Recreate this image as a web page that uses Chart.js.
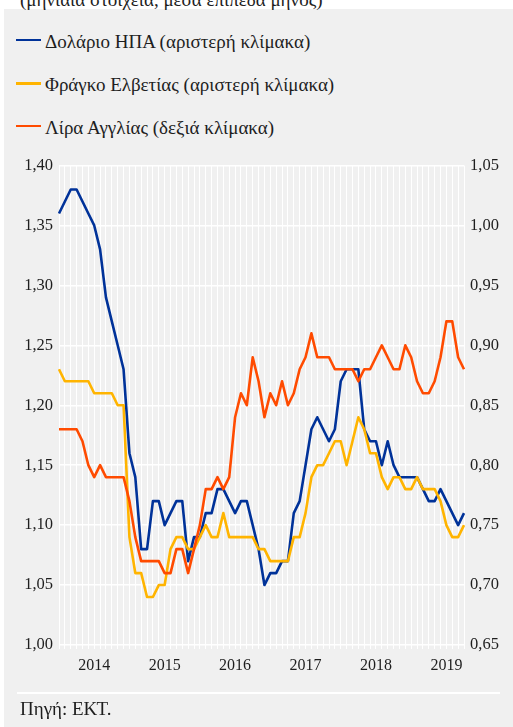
<!DOCTYPE html>
<html>
<head>
<meta charset="utf-8">
<script src="https://cdn.jsdelivr.net/npm/chart.js@4.4.1/dist/chart.umd.min.js"></script>
<style>
  body { margin: 0; background: #fff; width: 513px; height: 727px; overflow: hidden; position: relative; color: #1e1e1e; }
  .serif { font-family: 'Liberation Serif', 'Times New Roman', serif; }
  #panel { position: absolute; left: 4px; top: 9px; width: 509px; height: 718px; background: #f0f0f0; }
  #subtitle { position: absolute; left: 20px; top: -10px; font-size: 19px; line-height: 19px; white-space: nowrap; }
  .leg { position: absolute; left: 16px; font-size: 19px; line-height: 19px; white-space: nowrap; }
  .leg i { position: absolute; left: 0; top: 6.8px; width: 25px; height: 2.5px; }
  .leg span { position: absolute; left: 29px; top: 0; }
  #rule { position: absolute; left: 17px; top: 692px; width: 483px; height: 2px; background: #fff; }
  #source { position: absolute; left: 20px; top: 699px; font-size: 19px; line-height: 19px; }
  #myChart { position: absolute; left: 0; top: 0; }
</style>
</head>
<body>
<div id="panel"></div>
<div id="subtitle" class="serif">(μηνιαία στοιχεία, μέσα επίπεδα μηνός)</div>
<div id="legend" class="serif"></div>
<canvas id="myChart" width="513" height="727"></canvas>
<div id="rule"></div>
<div id="source" class="serif">Πηγή: ΕΚΤ.</div>
<script>
// μήνες: Ιαν 2014 - Οκτ 2019
var months = [
  "2014-01","2014-02","2014-03","2014-04","2014-05","2014-06","2014-07","2014-08","2014-09","2014-10","2014-11","2014-12",
  "2015-01","2015-02","2015-03","2015-04","2015-05","2015-06","2015-07","2015-08","2015-09","2015-10","2015-11","2015-12",
  "2016-01","2016-02","2016-03","2016-04","2016-05","2016-06","2016-07","2016-08","2016-09","2016-10","2016-11","2016-12",
  "2017-01","2017-02","2017-03","2017-04","2017-05","2017-06","2017-07","2017-08","2017-09","2017-10","2017-11","2017-12",
  "2018-01","2018-02","2018-03","2018-04","2018-05","2018-06","2018-07","2018-08","2018-09","2018-10","2018-11","2018-12",
  "2019-01","2019-02","2019-03","2019-04","2019-05","2019-06","2019-07","2019-08","2019-09","2019-10"
];

// αριστερή κλίμακα
var usd = [
  1.36,1.37,1.38,1.38,1.37,1.36,1.35,1.33,1.29,1.27,1.25,1.23,
  1.16,1.14,1.08,1.08,1.12,1.12,1.10,1.11,1.12,1.12,1.07,1.09,
  1.09,1.11,1.11,1.13,1.13,1.12,1.11,1.12,1.12,1.10,1.08,1.05,
  1.06,1.06,1.07,1.07,1.11,1.12,1.15,1.18,1.19,1.18,1.17,1.18,
  1.22,1.23,1.23,1.23,1.18,1.17,1.17,1.15,1.17,1.15,1.14,1.14,
  1.14,1.14,1.13,1.12,1.12,1.13,1.12,1.11,1.10,1.11
];
var chf = [
  1.23,1.22,1.22,1.22,1.22,1.22,1.21,1.21,1.21,1.21,1.20,1.20,
  1.09,1.06,1.06,1.04,1.04,1.05,1.05,1.08,1.09,1.09,1.08,1.08,
  1.09,1.10,1.09,1.09,1.11,1.09,1.09,1.09,1.09,1.09,1.08,1.08,
  1.07,1.07,1.07,1.07,1.09,1.09,1.11,1.14,1.15,1.15,1.16,1.17,
  1.17,1.15,1.17,1.19,1.18,1.16,1.16,1.14,1.13,1.14,1.14,1.13,
  1.13,1.14,1.13,1.13,1.13,1.12,1.10,1.09,1.09,1.10
];
// δεξιά κλίμακα
var gbp = [
  0.83,0.83,0.83,0.83,0.82,0.80,0.79,0.80,0.79,0.79,0.79,0.79,
  0.77,0.74,0.72,0.72,0.72,0.72,0.71,0.71,0.73,0.73,0.71,0.73,
  0.75,0.78,0.78,0.79,0.78,0.79,0.84,0.86,0.85,0.89,0.87,0.84,
  0.86,0.85,0.87,0.85,0.86,0.88,0.89,0.91,0.89,0.89,0.89,0.88,
  0.88,0.88,0.88,0.87,0.88,0.88,0.89,0.90,0.89,0.88,0.88,0.90,
  0.89,0.87,0.86,0.86,0.87,0.89,0.92,0.92,0.89,0.88
];

var seriesNames = [
  "Δολάριο ΗΠΑ (αριστερή κλίμακα)",
  "Φράγκο Ελβετίας (αριστερή κλίμακα)",
  "Λίρα Αγγλίας (δεξιά κλίμακα)"
];
var colors = ["#003299", "#ffb400", "#ff4b00"];

Chart.defaults.font.family = "'Liberation Serif', 'Times New Roman', serif";
Chart.defaults.font.size = 16;
Chart.defaults.color = "#1e1e1e";

function fmt(v) {
  return Number(v).toFixed(2).replace(".", ",");
}

// υπόμνημα
var legendTops = [31.8, 75.4, 118.1];
var legendHtml = "";
for (var i = 0; i < seriesNames.length; i++) {
  legendHtml += '<div class="leg" style="top:' + legendTops[i] + 'px"><i style="background:' + colors[i] +
    '"></i><span>' + seriesNames[i] + "</span></div>";
}
document.getElementById("legend").innerHTML = legendHtml;

var ctx = document.getElementById("myChart");
var chart = new Chart(ctx, {
  type: "line",
  data: {
    labels: months,
    datasets: [
      { label: seriesNames[0], data: usd, yAxisID: "y", borderColor: colors[0], order: 2 },
      { label: seriesNames[1], data: chf, yAxisID: "y", borderColor: colors[1], order: 1 },
      { label: seriesNames[2], data: gbp, yAxisID: "y1", borderColor: colors[2], order: 0 },
    ],
  },
  options: {
    responsive: false,
    devicePixelRatio: 1,
    animation: false,
    layout: { padding: { top: 165.5, left: 0, right: 0, bottom: 0 } },
    elements: {
      line: { borderWidth: 2.6, tension: 0, borderJoinStyle: "round", fill: false },
      point: { radius: 0 },
    },
    plugins: { legend: { display: false }, tooltip: { enabled: false } },
    scales: {
      x: {
        type: "category",
        offset: false,
        grid: { color: "#ffffff", lineWidth: 1, tickLength: 4, drawTicks: true },
        border: { display: false },
        ticks: {
          autoSkip: false,
          maxRotation: 0,
          padding: 7,
          callback: function (val, idx) {
            var m = months[idx];
            return m.slice(5) === "07" ? m.slice(0, 4) : "";
          },
        },
        afterFit: function (scale) { scale.height = 82; },
      },
      y: {
        position: "left",
        min: 1.0,
        max: 1.4,
        grid: { color: "#ffffff", lineWidth: 1.5, drawTicks: false },
        border: { display: false },
        ticks: { stepSize: 0.05, padding: 6, font: { size: 16.5 }, callback: fmt },
        afterFit: function (scale) { scale.width = 59; },
      },
      y1: {
        position: "right",
        min: 0.65,
        max: 1.05,
        grid: { display: false, drawTicks: false },
        border: { display: false },
        ticks: { stepSize: 0.05, padding: 6, font: { size: 16.5 }, callback: fmt },
        afterFit: function (scale) { scale.width = 49; },
      },
    },
  },
});
</script>
</body>
</html>
